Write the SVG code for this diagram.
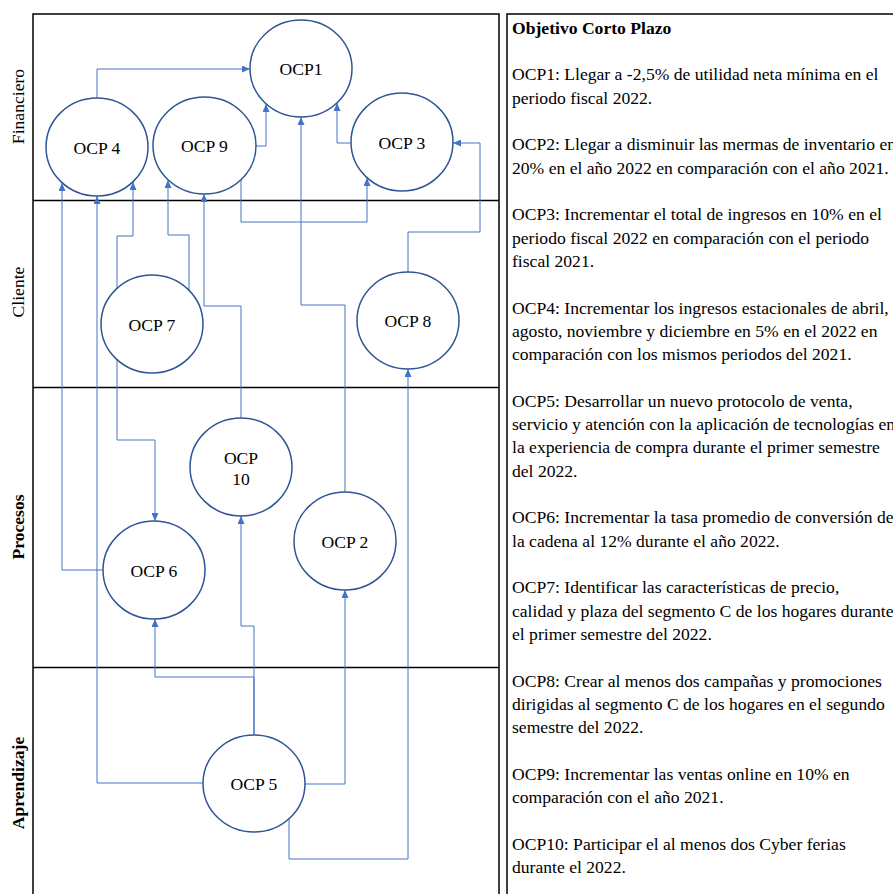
<svg xmlns="http://www.w3.org/2000/svg" width="893" height="894" viewBox="0 0 893 894">
<style>
.frame{fill:none;stroke:#000;stroke-width:1.5}
.lane{stroke:#000;stroke-width:1.5}
.node{fill:#fff;stroke:#2F5597;stroke-width:1.5}
.lbl{font-family:"Liberation Serif","Times New Roman",serif;font-size:17.6px;fill:#000;text-anchor:middle}
.lane-lbl{font-family:"Liberation Serif","Times New Roman",serif;font-size:17.6px;fill:#000;text-anchor:middle}
.b{font-weight:bold}
.conn{fill:none;stroke:#4472C4;stroke-width:1}
.txt{font-family:"Liberation Serif","Times New Roman",serif;font-size:17.6px;fill:#000}
</style>
<defs>
<marker id="arr" viewBox="0 0 8 7" refX="8" refY="3.5" markerWidth="8" markerHeight="7" markerUnits="userSpaceOnUse" orient="auto">
<path d="M0,0 L8,3.5 L0,7 z" fill="#4472C4"/>
</marker>
</defs>
<rect width="893" height="894" fill="#fff"/>
<g id="frame">
<rect class="frame" x="33" y="14" width="466" height="900"/>
<rect class="frame" x="507" y="14" width="420" height="900"/>
<line class="lane" x1="33" y1="200.5" x2="499" y2="200.5"/>
<line class="lane" x1="33" y1="387.5" x2="499" y2="387.5"/>
<line class="lane" x1="33" y1="667.5" x2="499" y2="667.5"/>
<text class="lane-lbl" transform="translate(23.5,106.5) rotate(-90)">Financiero</text>
<text class="lane-lbl" transform="translate(23.5,292) rotate(-90)">Cliente</text>
<text class="lane-lbl b" transform="translate(23.5,527) rotate(-90)">Procesos</text>
<text class="lane-lbl b" transform="translate(23.5,783) rotate(-90)">Aprendizaje</text>
</g>
<g id="connectors">
<path class="conn" marker-end="url(#arr)" d="M97,98 V69 H250"/>
<path class="conn" marker-end="url(#arr)" d="M256,146 H266 V104"/>
<path class="conn" marker-end="url(#arr)" d="M351,143 H337 V103"/>
<path class="conn" marker-end="url(#arr)" d="M345,492 V305 H301 V117"/>
<path class="conn" marker-end="url(#arr)" d="M408,272 V232 H480 V143 H453"/>
<path class="conn" marker-end="url(#arr)" d="M241,180 V222 H367 V178"/>
<path class="conn" marker-end="url(#arr)" d="M103,570 H62 V183"/>
<path class="conn" marker-end="url(#arr)" d="M203,783 H97 V196"/>
<path class="conn" marker-end="url(#arr)" d="M117,288 V236 H133 V182"/>
<path class="conn" marker-end="url(#arr)" d="M117,360 V440 H155 V521"/>
<path class="conn" marker-end="url(#arr)" d="M189,290 V235 H168 V180"/>
<path class="conn" marker-end="url(#arr)" d="M241,418 V306 H204 V194"/>
<path class="conn" marker-end="url(#arr)" d="M289,819 V859 H408 V369"/>
<path class="conn" marker-end="url(#arr)" d="M305,784 H345 V590"/>
<path class="conn" marker-end="url(#arr)" d="M254,735 V626 H241 V516"/>
<path class="conn" marker-end="url(#arr)" d="M254,735 V677 H155 V619"/>
</g>
<g id="ocp1"><ellipse class="node" cx="301" cy="68.5" rx="51" ry="48.5"/><text class="lbl" x="301" y="75">OCP1</text></g>
<g id="ocp4"><ellipse class="node" cx="97" cy="147" rx="51" ry="49"/><text class="lbl" x="97" y="153.5">OCP 4</text></g>
<g id="ocp9"><ellipse class="node" cx="204.5" cy="145.5" rx="51.5" ry="48.5"/><text class="lbl" x="204.5" y="152">OCP 9</text></g>
<g id="ocp3"><ellipse class="node" cx="402" cy="142" rx="51" ry="49"/><text class="lbl" x="402" y="148.5">OCP 3</text></g>
<g id="ocp7"><ellipse class="node" cx="152" cy="324" rx="51" ry="49"/><text class="lbl" x="152" y="330.5">OCP 7</text></g>
<g id="ocp8"><ellipse class="node" cx="408" cy="320.5" rx="51" ry="48.5"/><text class="lbl" x="408" y="327">OCP 8</text></g>
<g id="ocp10"><ellipse class="node" cx="241" cy="467" rx="51" ry="49"/><text class="lbl" x="241" y="464">OCP</text><text class="lbl" x="241" y="485">10</text></g>
<g id="ocp6"><ellipse class="node" cx="154" cy="570" rx="51" ry="49"/><text class="lbl" x="154" y="576.5">OCP 6</text></g>
<g id="ocp2"><ellipse class="node" cx="345" cy="541" rx="51" ry="49"/><text class="lbl" x="345" y="547.5">OCP 2</text></g>
<g id="ocp5"><ellipse class="node" cx="254" cy="783.5" rx="51" ry="48.5"/><text class="lbl" x="254" y="790">OCP 5</text></g>
<g id="legend">
<text class="txt">
<tspan class="b" x="512" y="33.5">Objetivo Corto Plazo</tspan>
<tspan x="512" y="80.2">OCP1: Llegar a -2,5% de utilidad neta mínima en el</tspan>
<tspan x="512" y="103.5">periodo fiscal 2022.</tspan>
<tspan x="512" y="150.2">OCP2: Llegar a disminuir las mermas de inventario en</tspan>
<tspan x="512" y="173.5">20% en el año 2022 en comparación con el año 2021.</tspan>
<tspan x="512" y="220.1">OCP3: Incrementar el total de ingresos en 10% en el</tspan>
<tspan x="512" y="243.5">periodo fiscal 2022 en comparación con el periodo</tspan>
<tspan x="512" y="266.8">fiscal 2021.</tspan>
<tspan x="512" y="313.5">OCP4: Incrementar los ingresos estacionales de abril,</tspan>
<tspan x="512" y="336.8">agosto, noviembre y diciembre en 5% en el 2022 en</tspan>
<tspan x="512" y="360.1">comparación con los mismos periodos del 2021.</tspan>
<tspan x="512" y="406.8">OCP5: Desarrollar un nuevo protocolo de venta,</tspan>
<tspan x="512" y="430.1">servicio y atención con la aplicación de tecnologías en</tspan>
<tspan x="512" y="453.4">la experiencia de compra durante el primer semestre</tspan>
<tspan x="512" y="476.8">del 2022.</tspan>
<tspan x="512" y="523.4">OCP6: Incrementar la tasa promedio de conversión de</tspan>
<tspan x="512" y="546.8">la cadena al 12% durante el año 2022.</tspan>
<tspan x="512" y="593.4">OCP7: Identificar las características de precio,</tspan>
<tspan x="512" y="616.8">calidad y plaza del segmento C de los hogares durante</tspan>
<tspan x="512" y="640.1">el primer semestre del 2022.</tspan>
<tspan x="512" y="686.8">OCP8: Crear al menos dos campañas y promociones</tspan>
<tspan x="512" y="710.1">dirigidas al segmento C de los hogares en el segundo</tspan>
<tspan x="512" y="733.4">semestre del 2022.</tspan>
<tspan x="512" y="780.1">OCP9: Incrementar las ventas online en 10% en</tspan>
<tspan x="512" y="803.4">comparación con el año 2021.</tspan>
<tspan x="512" y="850.1">OCP10: Participar el al menos dos Cyber ferias</tspan>
<tspan x="512" y="873.4">durante el 2022.</tspan>
</text>
</g>
</svg>
